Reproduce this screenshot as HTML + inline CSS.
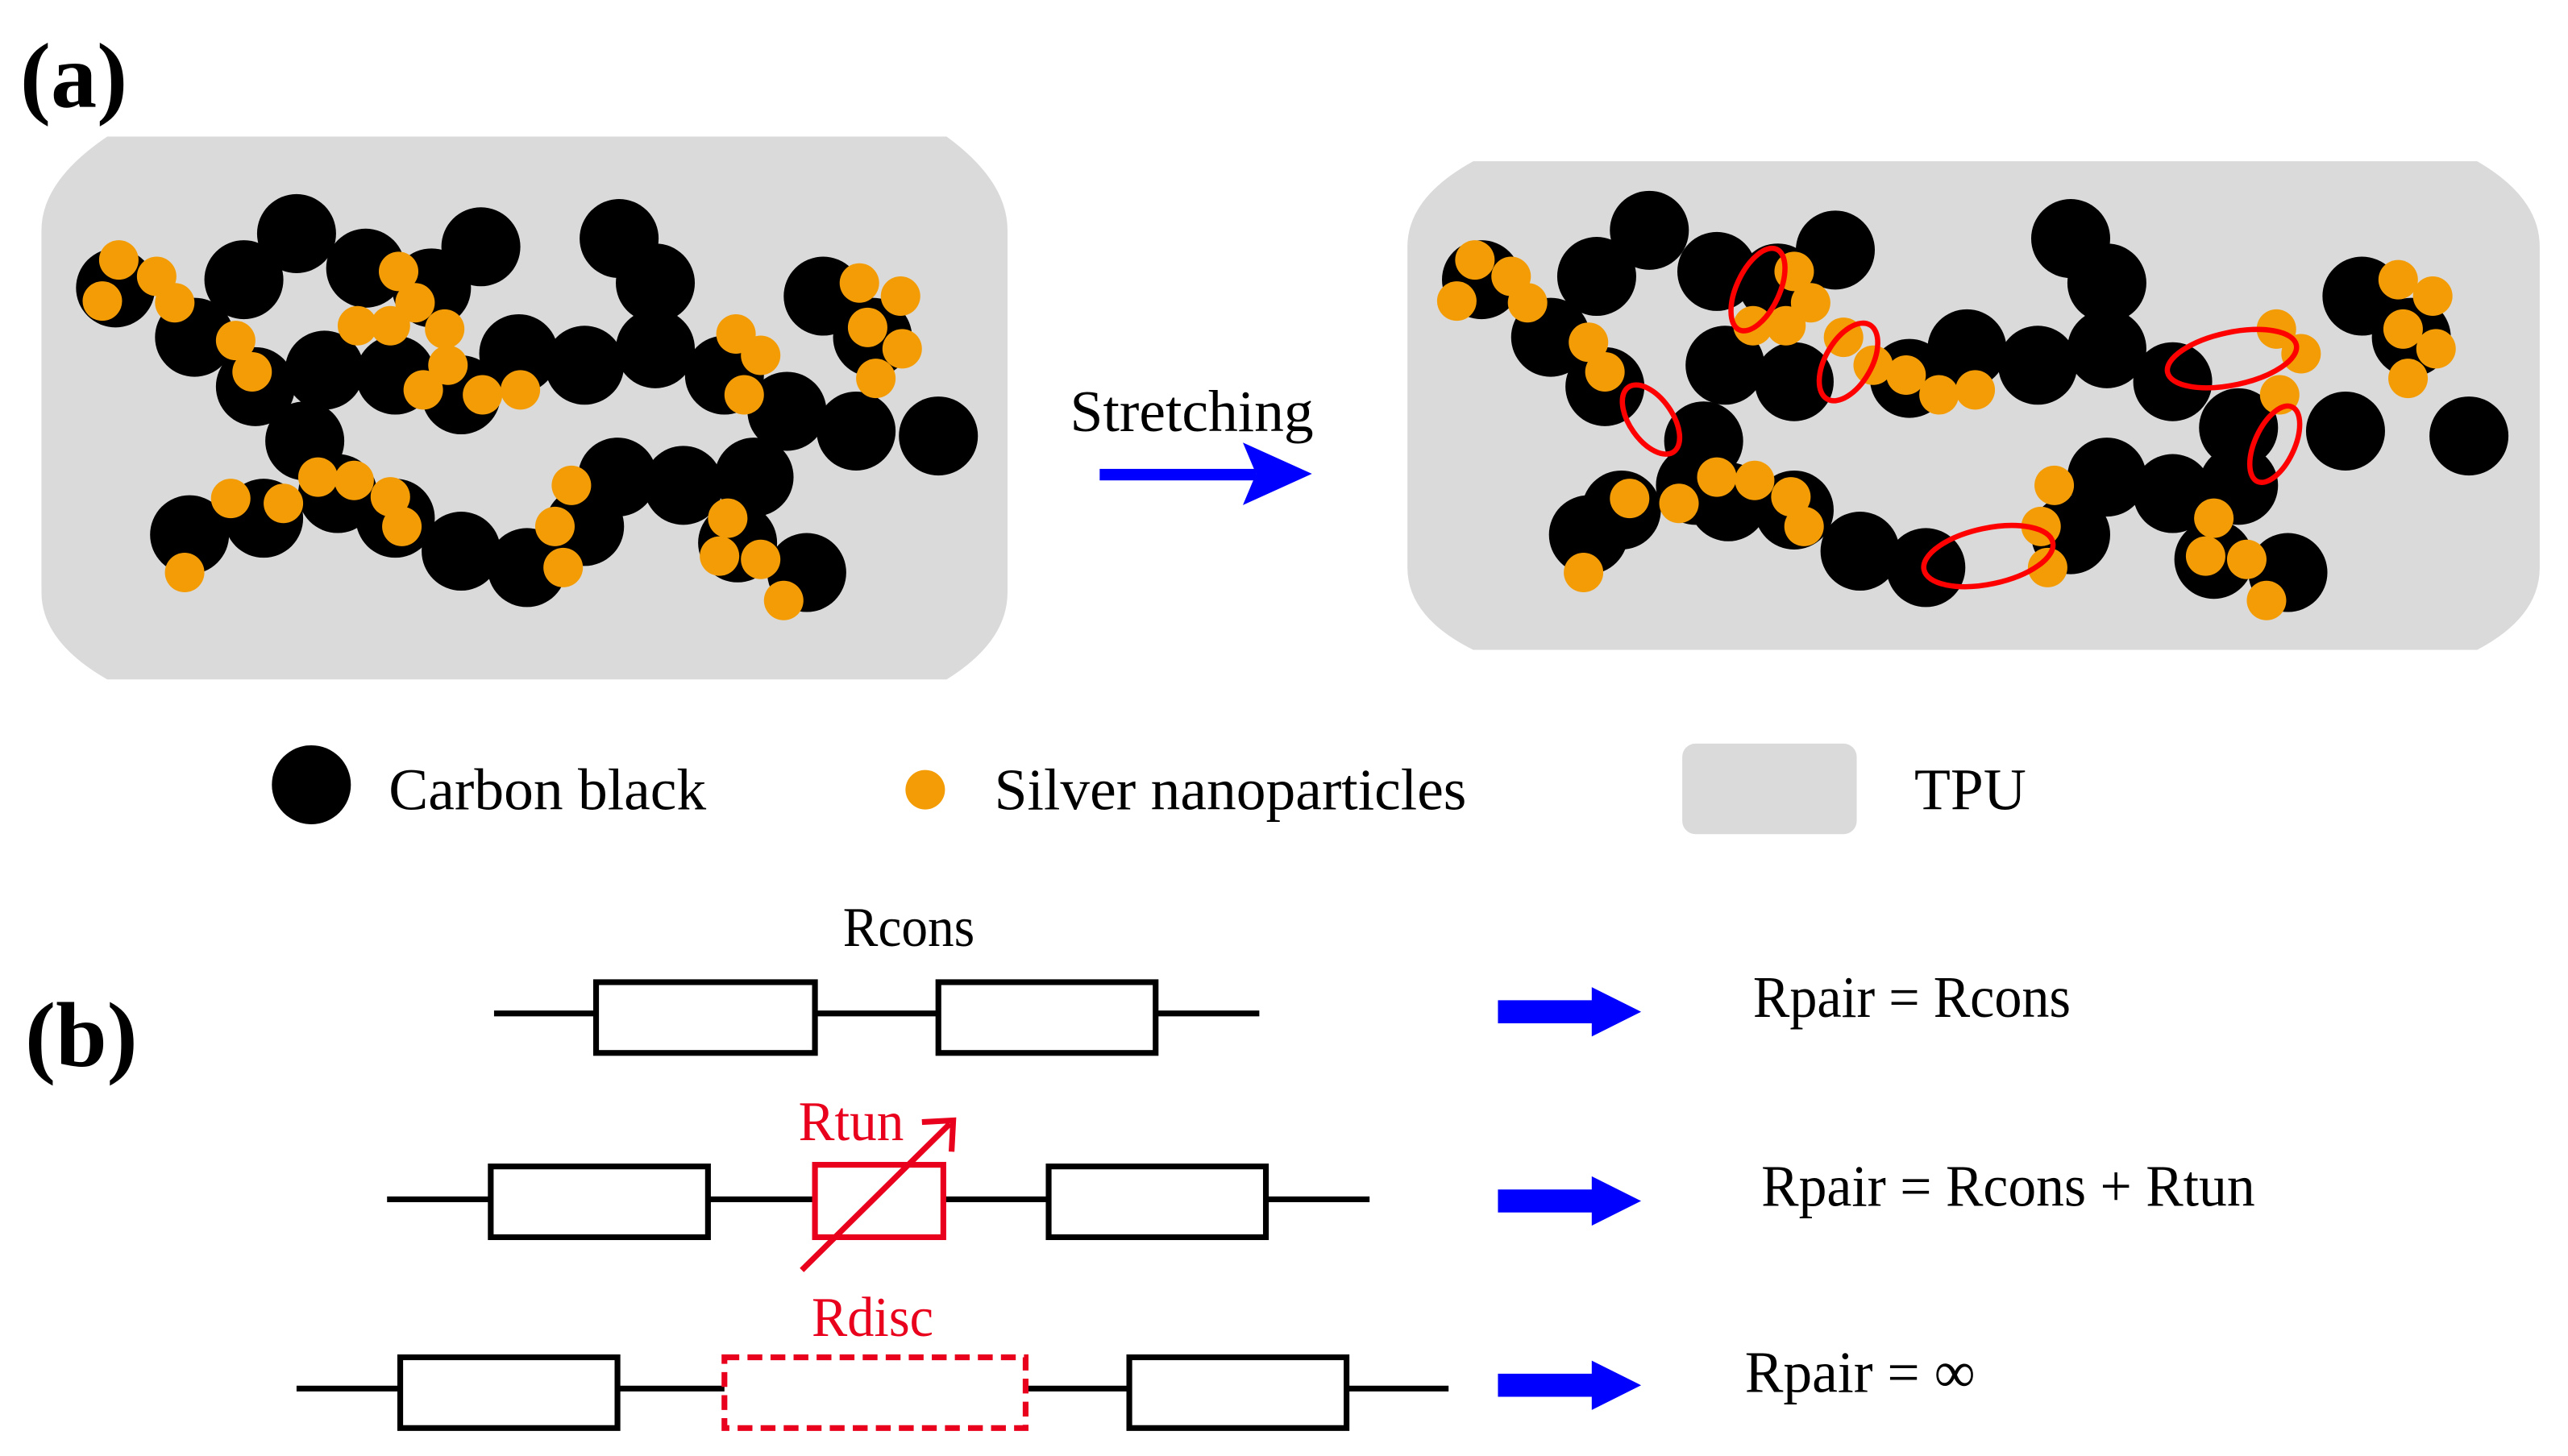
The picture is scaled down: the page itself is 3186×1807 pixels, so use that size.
<!DOCTYPE html>
<html><head><meta charset="utf-8"><style>html,body{margin:0;padding:0;background:#fff}svg{display:block}svg text{font-family:"Liberation Serif","DejaVu Serif",serif}</style></head>
<body>
<svg width="3186" height="1807" viewBox="0 0 1560 885" xmlns="http://www.w3.org/2000/svg" style="font-family:'Liberation Serif',serif">
<defs>
<g id="barrow"><polygon points="0,-7 57,-7 57,-15 87,0 57,15 57,7 0,7" fill="#0000ff"/></g>
</defs>
<text x="12" y="65" font-size="56" font-weight="bold">(a)</text>
<text x="15" y="648" font-size="56" font-weight="bold">(b)</text>

<!-- left panel -->
<path d="M65,83 H575 Q612,110 612,140 V360 Q612,390 575,413 H65 Q25,390 25,360 V140 Q25,110 65,83 Z" fill="#dadada"/>
<g fill="#000">
<circle cx="70" cy="175" r="24"/><circle cx="118" cy="205" r="24"/><circle cx="148" cy="170" r="24"/><circle cx="180" cy="142" r="24"/><circle cx="222" cy="163" r="24"/><circle cx="262" cy="175" r="24"/><circle cx="292" cy="150" r="24"/><circle cx="155" cy="235" r="24"/><circle cx="197" cy="225" r="24"/><circle cx="240" cy="228" r="24"/><circle cx="280" cy="240" r="24"/><circle cx="315" cy="215" r="24"/><circle cx="355" cy="222" r="24"/><circle cx="398" cy="212" r="24"/><circle cx="376" cy="145" r="24"/><circle cx="398" cy="172" r="24"/><circle cx="440" cy="228" r="24"/><circle cx="478" cy="250" r="24"/><circle cx="500" cy="180" r="24"/><circle cx="530" cy="205" r="24"/><circle cx="520" cy="262" r="24"/><circle cx="570" cy="265" r="24"/><circle cx="185" cy="268" r="24"/><circle cx="205" cy="300" r="24"/><circle cx="160" cy="315" r="24"/><circle cx="115" cy="325" r="24"/><circle cx="240" cy="315" r="24"/><circle cx="280" cy="335" r="24"/><circle cx="320" cy="345" r="24"/><circle cx="355" cy="320" r="24"/><circle cx="375" cy="290" r="24"/><circle cx="415" cy="295" r="24"/><circle cx="458" cy="290" r="24"/><circle cx="448" cy="330" r="24"/><circle cx="490" cy="348" r="24"/>
</g>
<g fill="#f39c06">
<circle cx="72" cy="158" r="12"/><circle cx="62" cy="183" r="12"/><circle cx="95" cy="168" r="12"/><circle cx="106" cy="184" r="12"/><circle cx="143" cy="207" r="12"/><circle cx="153" cy="226" r="12"/><circle cx="242" cy="165" r="12"/><circle cx="252" cy="184" r="12"/><circle cx="217" cy="198" r="12"/><circle cx="237" cy="198" r="12"/><circle cx="270" cy="200" r="12"/><circle cx="272" cy="222" r="12"/><circle cx="257" cy="237" r="12"/><circle cx="293" cy="240" r="12"/><circle cx="316" cy="237" r="12"/><circle cx="447" cy="203" r="12"/><circle cx="462" cy="216" r="12"/><circle cx="452" cy="240" r="12"/><circle cx="522" cy="172" r="12"/><circle cx="547" cy="180" r="12"/><circle cx="527" cy="199" r="12"/><circle cx="548" cy="212" r="12"/><circle cx="532" cy="230" r="12"/><circle cx="140" cy="303" r="12"/><circle cx="172" cy="306" r="12"/><circle cx="193" cy="290" r="12"/><circle cx="215" cy="292" r="12"/><circle cx="237" cy="302" r="12"/><circle cx="244" cy="320" r="12"/><circle cx="112" cy="348" r="12"/><circle cx="347" cy="295" r="12"/><circle cx="337" cy="320" r="12"/><circle cx="342" cy="345" r="12"/><circle cx="442" cy="315" r="12"/><circle cx="437" cy="338" r="12"/><circle cx="462" cy="340" r="12"/><circle cx="476" cy="365" r="12"/>
</g>

<!-- stretching arrow -->
<text x="650" y="262" font-size="36">Stretching</text>
<rect x="668" y="285" width="95" height="7" fill="#0000ff"/>
<polygon points="755,269 797,288 755,307 763,288" fill="#0000ff"/>

<!-- right panel -->
<path d="M895,98 H1505 Q1543,120 1543,150 V345 Q1543,375 1505,395 H895 Q855,375 855,345 V150 Q855,120 895,98 Z" fill="#dadada"/>
<g fill="#000">
<circle cx="900" cy="170" r="24"/><circle cx="942" cy="205" r="24"/><circle cx="970" cy="168" r="24"/><circle cx="1002" cy="140" r="24"/><circle cx="1043" cy="165" r="24"/><circle cx="1080" cy="172" r="24"/><circle cx="1115" cy="152" r="24"/><circle cx="975" cy="235" r="24"/><circle cx="1048" cy="222" r="24"/><circle cx="1090" cy="232" r="24"/><circle cx="1160" cy="230" r="24"/><circle cx="1195" cy="212" r="24"/><circle cx="1238" cy="222" r="24"/><circle cx="1280" cy="212" r="24"/><circle cx="1258" cy="145" r="24"/><circle cx="1280" cy="172" r="24"/><circle cx="1320" cy="232" r="24"/><circle cx="1360" cy="260" r="24"/><circle cx="1435" cy="180" r="24"/><circle cx="1465" cy="205" r="24"/><circle cx="1425" cy="262" r="24"/><circle cx="1500" cy="265" r="24"/><circle cx="1035" cy="268" r="24"/><circle cx="1030" cy="295" r="24"/><circle cx="985" cy="310" r="24"/><circle cx="965" cy="325" r="24"/><circle cx="1050" cy="305" r="24"/><circle cx="1090" cy="310" r="24"/><circle cx="1130" cy="335" r="24"/><circle cx="1170" cy="345" r="24"/><circle cx="1258" cy="325" r="24"/><circle cx="1280" cy="290" r="24"/><circle cx="1320" cy="300" r="24"/><circle cx="1360" cy="295" r="24"/><circle cx="1345" cy="340" r="24"/><circle cx="1390" cy="348" r="24"/>
</g>
<g fill="#f39c06">
<circle cx="896" cy="158" r="12"/><circle cx="885" cy="183" r="12"/><circle cx="918" cy="168" r="12"/><circle cx="928" cy="184" r="12"/><circle cx="965" cy="208" r="12"/><circle cx="975" cy="226" r="12"/><circle cx="1090" cy="165" r="12"/><circle cx="1100" cy="184" r="12"/><circle cx="1065" cy="198" r="12"/><circle cx="1085" cy="198" r="12"/><circle cx="1120" cy="205" r="12"/><circle cx="1138" cy="222" r="12"/><circle cx="1158" cy="228" r="12"/><circle cx="1178" cy="240" r="12"/><circle cx="1200" cy="237" r="12"/><circle cx="1383" cy="200" r="12"/><circle cx="1398" cy="215" r="12"/><circle cx="1385" cy="240" r="12"/><circle cx="1457" cy="170" r="12"/><circle cx="1478" cy="180" r="12"/><circle cx="1460" cy="200" r="12"/><circle cx="1480" cy="212" r="12"/><circle cx="1463" cy="230" r="12"/><circle cx="990" cy="303" r="12"/><circle cx="1020" cy="306" r="12"/><circle cx="1043" cy="290" r="12"/><circle cx="1066" cy="292" r="12"/><circle cx="1088" cy="302" r="12"/><circle cx="1096" cy="320" r="12"/><circle cx="962" cy="348" r="12"/><circle cx="1248" cy="295" r="12"/><circle cx="1240" cy="320" r="12"/><circle cx="1244" cy="345" r="12"/><circle cx="1345" cy="315" r="12"/><circle cx="1340" cy="338" r="12"/><circle cx="1365" cy="340" r="12"/><circle cx="1377" cy="365" r="12"/>
</g>
<g fill="none" stroke="#ff0000" stroke-width="3.2">
<ellipse cx="1068" cy="176" rx="13" ry="27" transform="rotate(25 1068 176)"/>
<ellipse cx="1123" cy="220" rx="14" ry="26" transform="rotate(30 1123 220)"/>
<ellipse cx="1003" cy="255" rx="13" ry="24" transform="rotate(-35 1003 255)"/>
<ellipse cx="1356" cy="218" rx="40" ry="16" transform="rotate(-12 1356 218)"/>
<ellipse cx="1382" cy="270" rx="12" ry="25" transform="rotate(25 1382 270)"/>
<ellipse cx="1208" cy="338" rx="40" ry="17" transform="rotate(-12 1208 338)"/>
</g>

<!-- legend -->
<circle cx="189" cy="477" r="24" fill="#000"/>
<text x="236" y="492" font-size="36">Carbon black</text>
<circle cx="562" cy="480" r="12" fill="#f39c06"/>
<text x="604" y="492" font-size="36">Silver nanoparticles</text>
<rect x="1022" y="452" width="106" height="55" rx="8" fill="#dadada"/>
<text x="1163" y="492" font-size="36">TPU</text>

<!-- circuits -->
<g stroke="#000" stroke-width="3.5" fill="#fff">
<line x1="300" y1="616" x2="765" y2="616"/>
<rect x="362" y="597" width="133" height="43"/>
<rect x="570" y="597" width="132" height="43"/>
<line x1="235" y1="729" x2="832" y2="729"/>
<rect x="298" y="709" width="132" height="43"/>
<rect x="637" y="709" width="132" height="43"/>
<line x1="180" y1="844" x2="880" y2="844"/>
<rect x="243" y="825" width="132" height="43"/>
<rect x="686" y="825" width="132" height="43"/>
</g>
<rect x="495" y="708" width="78" height="44" fill="#fff" stroke="#e8001c" stroke-width="3.5"/>
<line x1="487" y1="772" x2="577" y2="683" stroke="#e8001c" stroke-width="3.5"/>
<polyline points="560,682 579,681 578,700" fill="none" stroke="#e8001c" stroke-width="3.5"/>
<rect x="440" y="825" width="183" height="43" fill="#fff" stroke="#e8001c" stroke-width="3.5" stroke-dasharray="9,5"/>

<text x="512" y="575" font-size="34" textLength="80" lengthAdjust="spacingAndGlyphs">Rcons</text>
<text x="485" y="693" font-size="34" fill="#e8001c" textLength="64" lengthAdjust="spacingAndGlyphs">Rtun</text>
<text x="493" y="812" font-size="34" fill="#e8001c" textLength="74" lengthAdjust="spacingAndGlyphs">Rdisc</text>

<use href="#barrow" x="910" y="615"/>
<use href="#barrow" x="910" y="730"/>
<use href="#barrow" x="910" y="842"/>
<text x="1065" y="618" font-size="36" textLength="193" lengthAdjust="spacingAndGlyphs">Rpair = Rcons</text>
<text x="1070" y="733" font-size="36" textLength="300" lengthAdjust="spacingAndGlyphs">Rpair = Rcons + Rtun</text>
<text x="1060" y="846" font-size="36" textLength="140" lengthAdjust="spacingAndGlyphs">Rpair = ∞</text>
</svg>
</body></html>
